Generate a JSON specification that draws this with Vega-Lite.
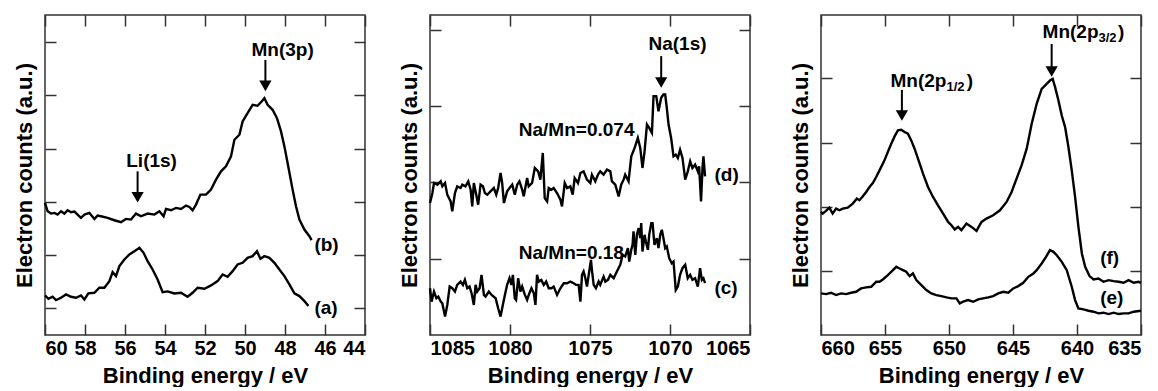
{
  "$schema": "https://vega.github.io/schema/vega-lite/v6.json",
  "padding": {"left": 12, "top": 13, "right": 0, "bottom": 0},
  "background": "white",
  "config": {
    "font": "Liberation Sans",
    "view": {"stroke": "#333", "strokeWidth": 1.5},
    "axis": {
      "domain": false, "grid": false,
      "tickColor": "#333", "tickWidth": 1.5, "tickSize": -11,
      "labelFont": "Liberation Sans", "labelFontWeight": "bold", "labelFontSize": 20, "labelColor": "black", "labelPadding": 14, "format": "d",
      "titleFont": "Liberation Sans", "titleFontWeight": "bold", "titleFontSize": 22, "titleColor": "black"
    },
    "text": {"font": "Liberation Sans", "fontWeight": "bold", "color": "black"}
  },
  "datasets": {
    "p1": [
      {"s":"b","E":60.00,"v":39.7},{"s":"b","E":59.87,"v":37.2},{"s":"b","E":59.70,"v":36.5},{"s":"b","E":59.53,"v":36.7},{"s":"b","E":59.37,"v":36.2},{"s":"b","E":59.20,"v":37.2},{"s":"b","E":59.03,"v":36.5},{"s":"b","E":58.87,"v":37.5},{"s":"b","E":58.70,"v":36.9},{"s":"b","E":58.53,"v":37.1},{"s":"b","E":58.37,"v":36.2},{"s":"b","E":58.20,"v":35.2},{"s":"b","E":58.03,"v":36.2},{"s":"b","E":57.78,"v":36.7},{"s":"b","E":57.53,"v":34.9},{"s":"b","E":57.37,"v":35.9},{"s":"b","E":57.20,"v":35.7},{"s":"b","E":56.87,"v":35.2},{"s":"b","E":56.53,"v":34.5},{"s":"b","E":56.20,"v":33.9},{"s":"b","E":55.95,"v":34.9},{"s":"b","E":55.70,"v":34.7},{"s":"b","E":55.45,"v":36.5},{"s":"b","E":55.20,"v":35.7},{"s":"b","E":54.87,"v":36.5},{"s":"b","E":54.53,"v":36.2},{"s":"b","E":54.28,"v":37.2},{"s":"b","E":54.07,"v":35.7},{"s":"b","E":53.95,"v":37.9},{"s":"b","E":53.70,"v":37.5},{"s":"b","E":53.45,"v":38.2},{"s":"b","E":53.20,"v":37.9},{"s":"b","E":52.95,"v":38.9},{"s":"b","E":52.78,"v":38.5},{"s":"b","E":52.62,"v":37.5},{"s":"b","E":52.45,"v":39.2},{"s":"b","E":52.23,"v":42.2},{"s":"b","E":51.95,"v":42.2},{"s":"b","E":51.70,"v":43.7},{"s":"b","E":51.45,"v":46.7},{"s":"b","E":51.20,"v":49.2},{"s":"b","E":50.95,"v":50.7},{"s":"b","E":50.70,"v":53.7},{"s":"b","E":50.53,"v":58.7},{"s":"b","E":50.28,"v":60.2},{"s":"b","E":50.12,"v":64.2},{"s":"b","E":49.87,"v":66.7},{"s":"b","E":49.62,"v":69.2},{"s":"b","E":49.37,"v":68.9},{"s":"b","E":49.17,"v":70.2},{"s":"b","E":49.03,"v":71.2},{"s":"b","E":48.87,"v":69.2},{"s":"b","E":48.62,"v":67.7},{"s":"b","E":48.40,"v":65.2},{"s":"b","E":48.20,"v":61.2},{"s":"b","E":48.03,"v":56.7},{"s":"b","E":47.87,"v":51.7},{"s":"b","E":47.62,"v":43.7},{"s":"b","E":47.45,"v":38.7},{"s":"b","E":47.28,"v":34.7},{"s":"b","E":47.03,"v":31.7},{"s":"b","E":46.78,"v":29.7},{"s":"b","E":46.67,"v":28.5},
      {"s":"a","E":60.00,"v":11.9},{"s":"a","E":59.83,"v":10.9},{"s":"a","E":59.62,"v":11.5},{"s":"a","E":59.45,"v":10.5},{"s":"a","E":59.20,"v":11.2},{"s":"a","E":58.95,"v":12.2},{"s":"a","E":58.70,"v":11.5},{"s":"a","E":58.45,"v":11.2},{"s":"a","E":58.20,"v":11.9},{"s":"a","E":58.03,"v":10.7},{"s":"a","E":57.83,"v":12.5},{"s":"a","E":57.53,"v":12.7},{"s":"a","E":57.28,"v":14.2},{"s":"a","E":57.03,"v":14.2},{"s":"a","E":56.78,"v":16.2},{"s":"a","E":56.62,"v":18.9},{"s":"a","E":56.45,"v":17.7},{"s":"a","E":56.28,"v":20.7},{"s":"a","E":56.03,"v":22.7},{"s":"a","E":55.78,"v":24.2},{"s":"a","E":55.53,"v":25.2},{"s":"a","E":55.28,"v":26.2},{"s":"a","E":55.07,"v":24.7},{"s":"a","E":54.87,"v":22.2},{"s":"a","E":54.62,"v":19.7},{"s":"a","E":54.37,"v":16.7},{"s":"a","E":54.12,"v":12.9},{"s":"a","E":53.87,"v":13.1},{"s":"a","E":53.53,"v":12.5},{"s":"a","E":53.20,"v":12.7},{"s":"a","E":52.87,"v":11.5},{"s":"a","E":52.62,"v":12.7},{"s":"a","E":52.37,"v":14.2},{"s":"a","E":52.03,"v":13.9},{"s":"a","E":51.70,"v":14.9},{"s":"a","E":51.37,"v":16.2},{"s":"a","E":51.12,"v":18.2},{"s":"a","E":50.87,"v":17.5},{"s":"a","E":50.62,"v":19.2},{"s":"a","E":50.37,"v":21.2},{"s":"a","E":50.12,"v":21.7},{"s":"a","E":49.87,"v":23.2},{"s":"a","E":49.62,"v":23.7},{"s":"a","E":49.40,"v":25.2},{"s":"a","E":49.23,"v":22.9},{"s":"a","E":49.03,"v":23.7},{"s":"a","E":48.78,"v":23.2},{"s":"a","E":48.53,"v":21.7},{"s":"a","E":48.28,"v":19.7},{"s":"a","E":48.03,"v":17.7},{"s":"a","E":47.78,"v":15.2},{"s":"a","E":47.53,"v":12.5},{"s":"a","E":47.28,"v":11.7},{"s":"a","E":47.03,"v":10.2},{"s":"a","E":46.83,"v":8.7}
    ],
    "p2": [
      {"s":"d","E":1085.00,"v":39.5},{"s":"d","E":1084.85,"v":42.5},{"s":"d","E":1084.75,"v":45.5},{"s":"d","E":1084.54,"v":45.0},{"s":"d","E":1084.33,"v":46.0},{"s":"d","E":1084.23,"v":44.5},{"s":"d","E":1084.06,"v":45.5},{"s":"d","E":1083.92,"v":42.0},{"s":"d","E":1083.71,"v":40.0},{"s":"d","E":1083.61,"v":37.0},{"s":"d","E":1083.44,"v":42.5},{"s":"d","E":1083.30,"v":44.5},{"s":"d","E":1083.09,"v":44.0},{"s":"d","E":1082.98,"v":45.0},{"s":"d","E":1082.78,"v":44.5},{"s":"d","E":1082.61,"v":46.0},{"s":"d","E":1082.46,"v":43.5},{"s":"d","E":1082.36,"v":38.5},{"s":"d","E":1082.26,"v":45.5},{"s":"d","E":1082.11,"v":42.0},{"s":"d","E":1081.99,"v":39.0},{"s":"d","E":1081.84,"v":45.0},{"s":"d","E":1081.69,"v":44.5},{"s":"d","E":1081.57,"v":42.5},{"s":"d","E":1081.42,"v":42.0},{"s":"d","E":1081.22,"v":43.0},{"s":"d","E":1081.01,"v":44.0},{"s":"d","E":1080.86,"v":42.0},{"s":"d","E":1080.74,"v":44.0},{"s":"d","E":1080.59,"v":48.5},{"s":"d","E":1080.49,"v":45.5},{"s":"d","E":1080.38,"v":39.5},{"s":"d","E":1080.18,"v":43.0},{"s":"d","E":1080.03,"v":44.0},{"s":"d","E":1079.86,"v":45.0},{"s":"d","E":1079.70,"v":42.0},{"s":"d","E":1079.55,"v":45.0},{"s":"d","E":1079.41,"v":46.0},{"s":"d","E":1079.24,"v":43.5},{"s":"d","E":1079.14,"v":41.5},{"s":"d","E":1078.93,"v":47.0},{"s":"d","E":1078.83,"v":44.5},{"s":"d","E":1078.62,"v":45.5},{"s":"d","E":1078.45,"v":50.0},{"s":"d","E":1078.24,"v":49.0},{"s":"d","E":1078.10,"v":46.5},{"s":"d","E":1077.95,"v":54.5},{"s":"d","E":1077.83,"v":41.0},{"s":"d","E":1077.68,"v":40.0},{"s":"d","E":1077.58,"v":44.0},{"s":"d","E":1077.41,"v":43.5},{"s":"d","E":1077.27,"v":44.0},{"s":"d","E":1077.06,"v":42.5},{"s":"d","E":1076.85,"v":40.5},{"s":"d","E":1076.75,"v":38.5},{"s":"d","E":1076.58,"v":45.5},{"s":"d","E":1076.43,"v":44.0},{"s":"d","E":1076.23,"v":44.5},{"s":"d","E":1076.08,"v":42.0},{"s":"d","E":1075.96,"v":47.0},{"s":"d","E":1075.75,"v":45.5},{"s":"d","E":1075.60,"v":48.5},{"s":"d","E":1075.40,"v":49.0},{"s":"d","E":1075.19,"v":46.5},{"s":"d","E":1074.98,"v":45.5},{"s":"d","E":1074.88,"v":48.0},{"s":"d","E":1074.67,"v":46.0},{"s":"d","E":1074.50,"v":48.0},{"s":"d","E":1074.36,"v":49.0},{"s":"d","E":1074.15,"v":48.0},{"s":"d","E":1073.94,"v":49.5},{"s":"d","E":1073.73,"v":49.0},{"s":"d","E":1073.63,"v":46.0},{"s":"d","E":1073.42,"v":45.0},{"s":"d","E":1073.21,"v":41.5},{"s":"d","E":1073.05,"v":45.0},{"s":"d","E":1072.90,"v":46.5},{"s":"d","E":1072.80,"v":48.0},{"s":"d","E":1072.59,"v":46.0},{"s":"d","E":1072.42,"v":53.5},{"s":"d","E":1072.21,"v":56.0},{"s":"d","E":1072.01,"v":59.0},{"s":"d","E":1071.86,"v":56.0},{"s":"d","E":1071.72,"v":50.0},{"s":"d","E":1071.59,"v":55.0},{"s":"d","E":1071.44,"v":63.0},{"s":"d","E":1071.30,"v":62.0},{"s":"d","E":1071.13,"v":60.5},{"s":"d","E":1071.03,"v":71.5},{"s":"d","E":1070.86,"v":71.5},{"s":"d","E":1070.72,"v":67.0},{"s":"d","E":1070.55,"v":71.0},{"s":"d","E":1070.41,"v":72.0},{"s":"d","E":1070.30,"v":72.0},{"s":"d","E":1070.20,"v":68.0},{"s":"d","E":1070.09,"v":63.0},{"s":"d","E":1069.93,"v":59.0},{"s":"d","E":1069.78,"v":53.5},{"s":"d","E":1069.64,"v":54.0},{"s":"d","E":1069.51,"v":53.0},{"s":"d","E":1069.37,"v":55.5},{"s":"d","E":1069.22,"v":53.0},{"s":"d","E":1069.05,"v":46.5},{"s":"d","E":1068.89,"v":49.0},{"s":"d","E":1068.74,"v":52.0},{"s":"d","E":1068.60,"v":50.0},{"s":"d","E":1068.43,"v":51.0},{"s":"d","E":1068.26,"v":49.0},{"s":"d","E":1068.18,"v":50.5},{"s":"d","E":1068.06,"v":40.0},{"s":"d","E":1067.97,"v":50.0},{"s":"d","E":1067.91,"v":53.5},{"s":"d","E":1067.81,"v":47.5},
      {"s":"c","E":1085.00,"v":14.0},{"s":"c","E":1084.90,"v":10.0},{"s":"c","E":1084.75,"v":13.0},{"s":"c","E":1084.60,"v":11.0},{"s":"c","E":1084.48,"v":11.5},{"s":"c","E":1084.33,"v":10.0},{"s":"c","E":1084.23,"v":9.5},{"s":"c","E":1084.06,"v":5.5},{"s":"c","E":1083.92,"v":9.0},{"s":"c","E":1083.77,"v":14.5},{"s":"c","E":1083.61,"v":14.0},{"s":"c","E":1083.44,"v":13.0},{"s":"c","E":1083.30,"v":15.0},{"s":"c","E":1083.09,"v":16.0},{"s":"c","E":1082.94,"v":15.0},{"s":"c","E":1082.82,"v":16.5},{"s":"c","E":1082.67,"v":14.0},{"s":"c","E":1082.53,"v":14.5},{"s":"c","E":1082.40,"v":12.5},{"s":"c","E":1082.26,"v":9.0},{"s":"c","E":1082.15,"v":15.0},{"s":"c","E":1082.05,"v":13.0},{"s":"c","E":1081.90,"v":14.0},{"s":"c","E":1081.78,"v":18.0},{"s":"c","E":1081.63,"v":12.0},{"s":"c","E":1081.53,"v":11.5},{"s":"c","E":1081.32,"v":13.0},{"s":"c","E":1081.15,"v":12.0},{"s":"c","E":1080.90,"v":11.0},{"s":"c","E":1080.74,"v":8.0},{"s":"c","E":1080.59,"v":5.5},{"s":"c","E":1080.49,"v":8.0},{"s":"c","E":1080.32,"v":12.0},{"s":"c","E":1080.18,"v":15.0},{"s":"c","E":1080.03,"v":17.0},{"s":"c","E":1079.91,"v":15.0},{"s":"c","E":1079.82,"v":18.0},{"s":"c","E":1079.70,"v":11.0},{"s":"c","E":1079.62,"v":10.5},{"s":"c","E":1079.49,"v":17.0},{"s":"c","E":1079.35,"v":13.0},{"s":"c","E":1079.24,"v":14.5},{"s":"c","E":1079.07,"v":12.0},{"s":"c","E":1078.93,"v":10.5},{"s":"c","E":1078.83,"v":12.0},{"s":"c","E":1078.66,"v":14.0},{"s":"c","E":1078.51,"v":12.5},{"s":"c","E":1078.41,"v":9.0},{"s":"c","E":1078.31,"v":18.0},{"s":"c","E":1078.20,"v":16.0},{"s":"c","E":1078.04,"v":16.5},{"s":"c","E":1077.89,"v":15.0},{"s":"c","E":1077.74,"v":16.0},{"s":"c","E":1077.58,"v":14.0},{"s":"c","E":1077.41,"v":14.0},{"s":"c","E":1077.27,"v":14.5},{"s":"c","E":1077.06,"v":12.0},{"s":"c","E":1076.85,"v":14.0},{"s":"c","E":1076.64,"v":15.5},{"s":"c","E":1076.43,"v":15.5},{"s":"c","E":1076.23,"v":16.0},{"s":"c","E":1076.02,"v":15.5},{"s":"c","E":1075.87,"v":15.0},{"s":"c","E":1075.71,"v":15.0},{"s":"c","E":1075.60,"v":10.0},{"s":"c","E":1075.50,"v":18.0},{"s":"c","E":1075.40,"v":19.0},{"s":"c","E":1075.29,"v":17.0},{"s":"c","E":1075.19,"v":14.5},{"s":"c","E":1075.08,"v":18.0},{"s":"c","E":1074.94,"v":22.5},{"s":"c","E":1074.88,"v":19.5},{"s":"c","E":1074.77,"v":15.0},{"s":"c","E":1074.63,"v":14.0},{"s":"c","E":1074.46,"v":16.0},{"s":"c","E":1074.36,"v":15.0},{"s":"c","E":1074.15,"v":17.5},{"s":"c","E":1074.04,"v":16.0},{"s":"c","E":1073.88,"v":16.5},{"s":"c","E":1073.73,"v":18.0},{"s":"c","E":1073.52,"v":17.0},{"s":"c","E":1073.32,"v":19.0},{"s":"c","E":1073.11,"v":21.0},{"s":"c","E":1072.96,"v":24.0},{"s":"c","E":1072.80,"v":23.5},{"s":"c","E":1072.63,"v":26.0},{"s":"c","E":1072.55,"v":22.0},{"s":"c","E":1072.42,"v":25.5},{"s":"c","E":1072.34,"v":27.0},{"s":"c","E":1072.28,"v":31.0},{"s":"c","E":1072.17,"v":24.0},{"s":"c","E":1072.07,"v":30.0},{"s":"c","E":1071.96,"v":32.0},{"s":"c","E":1071.86,"v":29.0},{"s":"c","E":1071.80,"v":33.5},{"s":"c","E":1071.72,"v":25.0},{"s":"c","E":1071.59,"v":30.0},{"s":"c","E":1071.51,"v":28.0},{"s":"c","E":1071.38,"v":25.5},{"s":"c","E":1071.30,"v":30.0},{"s":"c","E":1071.17,"v":33.5},{"s":"c","E":1071.09,"v":33.5},{"s":"c","E":1070.97,"v":27.0},{"s":"c","E":1070.82,"v":29.0},{"s":"c","E":1070.72,"v":26.0},{"s":"c","E":1070.61,"v":30.0},{"s":"c","E":1070.51,"v":31.5},{"s":"c","E":1070.41,"v":29.0},{"s":"c","E":1070.30,"v":26.0},{"s":"c","E":1070.20,"v":26.5},{"s":"c","E":1070.05,"v":23.0},{"s":"c","E":1069.89,"v":21.5},{"s":"c","E":1069.78,"v":22.0},{"s":"c","E":1069.64,"v":13.5},{"s":"c","E":1069.51,"v":14.5},{"s":"c","E":1069.37,"v":18.0},{"s":"c","E":1069.22,"v":20.0},{"s":"c","E":1069.05,"v":21.0},{"s":"c","E":1068.89,"v":17.0},{"s":"c","E":1068.74,"v":18.0},{"s":"c","E":1068.60,"v":16.5},{"s":"c","E":1068.43,"v":17.0},{"s":"c","E":1068.26,"v":14.5},{"s":"c","E":1068.12,"v":20.0},{"s":"c","E":1068.01,"v":16.5},{"s":"c","E":1067.91,"v":17.0},{"s":"c","E":1067.81,"v":15.5}
    ],
    "p3": [
      {"s":"f","E":660.00,"v":37.0},{"s":"f","E":659.87,"v":36.5},{"s":"f","E":659.61,"v":37.3},{"s":"f","E":659.35,"v":38.3},{"s":"f","E":659.09,"v":36.5},{"s":"f","E":658.82,"v":38.0},{"s":"f","E":658.56,"v":37.5},{"s":"f","E":658.30,"v":38.0},{"s":"f","E":657.91,"v":38.3},{"s":"f","E":657.52,"v":39.5},{"s":"f","E":657.20,"v":41.0},{"s":"f","E":657.00,"v":40.5},{"s":"f","E":656.73,"v":41.7},{"s":"f","E":656.47,"v":43.0},{"s":"f","E":656.21,"v":44.5},{"s":"f","E":655.95,"v":45.7},{"s":"f","E":655.69,"v":47.5},{"s":"f","E":655.43,"v":49.5},{"s":"f","E":655.04,"v":52.5},{"s":"f","E":654.78,"v":55.0},{"s":"f","E":654.51,"v":57.5},{"s":"f","E":654.25,"v":59.7},{"s":"f","E":653.99,"v":61.5},{"s":"f","E":653.73,"v":61.7},{"s":"f","E":653.47,"v":61.0},{"s":"f","E":653.21,"v":60.5},{"s":"f","E":652.95,"v":58.5},{"s":"f","E":652.69,"v":56.0},{"s":"f","E":652.29,"v":51.5},{"s":"f","E":652.03,"v":48.5},{"s":"f","E":651.64,"v":44.5},{"s":"f","E":651.25,"v":41.5},{"s":"f","E":650.86,"v":39.0},{"s":"f","E":650.46,"v":36.5},{"s":"f","E":650.07,"v":34.0},{"s":"f","E":649.81,"v":33.0},{"s":"f","E":649.55,"v":31.7},{"s":"f","E":649.29,"v":32.5},{"s":"f","E":649.03,"v":31.5},{"s":"f","E":648.64,"v":33.5},{"s":"f","E":648.24,"v":32.5},{"s":"f","E":647.85,"v":31.3},{"s":"f","E":647.46,"v":34.0},{"s":"f","E":647.07,"v":35.0},{"s":"f","E":646.55,"v":36.0},{"s":"f","E":646.02,"v":37.5},{"s":"f","E":645.50,"v":40.0},{"s":"f","E":645.11,"v":43.0},{"s":"f","E":644.72,"v":47.0},{"s":"f","E":644.33,"v":51.0},{"s":"f","E":643.93,"v":56.0},{"s":"f","E":643.54,"v":63.5},{"s":"f","E":643.15,"v":69.5},{"s":"f","E":642.76,"v":74.0},{"s":"f","E":642.37,"v":75.5},{"s":"f","E":642.11,"v":76.5},{"s":"f","E":641.90,"v":77.0},{"s":"f","E":641.71,"v":74.5},{"s":"f","E":641.45,"v":70.5},{"s":"f","E":641.19,"v":66.0},{"s":"f","E":640.93,"v":62.5},{"s":"f","E":640.67,"v":56.5},{"s":"f","E":640.41,"v":49.5},{"s":"f","E":640.15,"v":41.5},{"s":"f","E":639.89,"v":32.5},{"s":"f","E":639.62,"v":24.5},{"s":"f","E":639.36,"v":20.5},{"s":"f","E":639.02,"v":17.7},{"s":"f","E":638.71,"v":16.7},{"s":"f","E":638.32,"v":17.0},{"s":"f","E":637.93,"v":16.0},{"s":"f","E":637.53,"v":16.5},{"s":"f","E":637.14,"v":16.2},{"s":"f","E":636.75,"v":16.0},{"s":"f","E":636.36,"v":15.7},{"s":"f","E":635.97,"v":16.5},{"s":"f","E":635.57,"v":15.7},{"s":"f","E":635.18,"v":16.0},{"s":"f","E":635.00,"v":15.7},
      {"s":"e","E":660.00,"v":12.5},{"s":"e","E":659.61,"v":12.3},{"s":"e","E":659.22,"v":12.7},{"s":"e","E":658.82,"v":12.0},{"s":"e","E":658.43,"v":12.5},{"s":"e","E":658.04,"v":12.3},{"s":"e","E":657.65,"v":12.7},{"s":"e","E":657.26,"v":13.0},{"s":"e","E":656.87,"v":14.0},{"s":"e","E":656.47,"v":14.3},{"s":"e","E":656.08,"v":14.5},{"s":"e","E":655.69,"v":16.0},{"s":"e","E":655.43,"v":16.0},{"s":"e","E":655.17,"v":16.7},{"s":"e","E":654.78,"v":18.0},{"s":"e","E":654.38,"v":19.5},{"s":"e","E":654.12,"v":20.5},{"s":"e","E":653.86,"v":20.0},{"s":"e","E":653.60,"v":19.5},{"s":"e","E":653.34,"v":19.0},{"s":"e","E":653.08,"v":17.7},{"s":"e","E":652.82,"v":18.5},{"s":"e","E":652.55,"v":16.5},{"s":"e","E":652.16,"v":15.0},{"s":"e","E":651.77,"v":13.5},{"s":"e","E":651.38,"v":12.5},{"s":"e","E":650.99,"v":12.0},{"s":"e","E":650.60,"v":11.7},{"s":"e","E":650.20,"v":11.3},{"s":"e","E":649.81,"v":11.0},{"s":"e","E":649.42,"v":11.0},{"s":"e","E":649.16,"v":9.5},{"s":"e","E":648.90,"v":10.0},{"s":"e","E":648.51,"v":10.5},{"s":"e","E":648.11,"v":10.0},{"s":"e","E":647.72,"v":10.7},{"s":"e","E":647.33,"v":11.0},{"s":"e","E":646.94,"v":11.3},{"s":"e","E":646.55,"v":11.7},{"s":"e","E":646.15,"v":12.5},{"s":"e","E":645.76,"v":13.0},{"s":"e","E":645.37,"v":12.7},{"s":"e","E":644.98,"v":14.0},{"s":"e","E":644.59,"v":14.7},{"s":"e","E":644.20,"v":15.7},{"s":"e","E":643.80,"v":17.5},{"s":"e","E":643.41,"v":18.5},{"s":"e","E":643.15,"v":19.5},{"s":"e","E":642.76,"v":21.5},{"s":"e","E":642.42,"v":23.5},{"s":"e","E":642.11,"v":25.5},{"s":"e","E":641.84,"v":25.0},{"s":"e","E":641.58,"v":24.0},{"s":"e","E":641.19,"v":22.0},{"s":"e","E":640.80,"v":19.5},{"s":"e","E":640.41,"v":14.5},{"s":"e","E":640.15,"v":10.5},{"s":"e","E":639.89,"v":8.0},{"s":"e","E":639.49,"v":7.7},{"s":"e","E":639.10,"v":7.3},{"s":"e","E":638.71,"v":7.0},{"s":"e","E":638.32,"v":6.5},{"s":"e","E":637.93,"v":6.7},{"s":"e","E":637.53,"v":6.3},{"s":"e","E":637.14,"v":6.7},{"s":"e","E":636.75,"v":6.3},{"s":"e","E":636.36,"v":6.5},{"s":"e","E":635.97,"v":6.5},{"s":"e","E":635.57,"v":7.0},{"s":"e","E":635.00,"v":7.3}
    ],
    "a1": [{"E":48.98,"y1":82.7,"y2":75.5,"yt":74.9},{"E":55.37,"y1":49.2,"y2":42.0,"yt":41.4}],
    "a2": [{"E":1070.55,"y1":83.5,"y2":76.2,"yt":75.6}],
    "a3": [{"E":653.68,"y1":73.7,"y2":66.6,"yt":66.0},{"E":641.98,"y1":87.5,"y2":79.8,"yt":79.2}],
    "l1": [
      {"k":"peak","t":"Mn(3p)","E":48.12,"v":85.7},
      {"k":"peak","t":"Li(1s)","E":54.67,"v":52.2},
      {"k":"curve","t":"(b)","E":46.53,"v":27.2},
      {"k":"curve","t":"(a)","E":46.53,"v":8.2}
    ],
    "l2": [
      {"k":"peak","t":"Na(1s)","E":1069.53,"v":87.0},
      {"k":"curve","t":"Na/Mn=0.074","E":1079.45,"v":61.5},
      {"k":"curve","t":"Na/Mn=0.18","E":1079.45,"v":24.5},
      {"k":"curve","t":"(d)","E":1067.22,"v":48.0},
      {"k":"curve","t":"(c)","E":1067.22,"v":14.2}
    ],
    "l3": [
      {"k":"main","t":"Mn(2p","E":650.20,"v":76.5},
      {"k":"sub","t":"1/2","E":650.20,"v":76.5},
      {"k":"curve","t":")","E":648.62,"v":76.5},
      {"k":"main","t":"Mn(2p","E":638.32,"v":91.0},
      {"k":"sub","t":"3/2","E":638.32,"v":91.0},
      {"k":"curve","t":")","E":636.80,"v":91.0},
      {"k":"curve","t":"(f)","E":638.19,"v":23.0},
      {"k":"curve","t":"(e)","E":638.19,"v":11.0}
    ]
  },
  "spacing": 36,
  "hconcat": [
    {
      "spacing": 30,
      "hconcat": [
        {
          "width": 320, "height": 320,
          "resolve": {"axis": {"x": "independent", "y": "independent"}},
          "layer": [
            {
              "data": {"name": "p1"},
              "mark": {"type": "line", "color": "black", "strokeWidth": 2.4},
              "encoding": {
                "x": {"field": "E", "type": "quantitative", "scale": {"domain": [44, 60], "reverse": true, "nice": false, "zero": false},
                      "axis": {"orient": "bottom", "values": [44,46,48,50,52,54,56,58,60], "title": "Binding energy / eV", "titlePadding": 7}},
                "y": {"field": "v", "type": "quantitative", "scale": {"domain": [0, 96.2], "nice": false, "zero": false},
                      "axis": {"orient": "left", "labels": false, "values": [8,24,40,56,72,88], "title": "Electron counts (a.u.)", "titlePadding": 8}},
                "detail": {"field": "s"}
              }
            },
            {
              "data": {"name": "a1"},
              "mark": {"type": "rule", "color": "black", "strokeWidth": 2},
              "encoding": {
                "x": {"field": "E", "type": "quantitative", "axis": {"orient": "top", "labels": false, "title": null, "values": [44,46,48,50,52,54,56,58,60]}},
                "y": {"field": "y1", "type": "quantitative", "axis": {"orient": "right", "labels": false, "title": null, "values": [8,24,40,56,72,88]}},
                "y2": {"field": "y2"}
              }
            },
            {
              "data": {"name": "a1"},
              "mark": {"type": "point", "shape": "triangle-down", "filled": true, "color": "black", "opacity": 1, "size": 150},
              "encoding": {
                "x": {"field": "E", "type": "quantitative", "axis": null},
                "y": {"field": "yt", "type": "quantitative", "axis": null}
              }
            },
            {
              "data": {"name": "l1"},
              "transform": [{"filter": "datum.k == 'peak'"}],
              "mark": {"type": "text", "align": "center", "baseline": "middle", "fontSize": 19},
              "encoding": {
                "x": {"field": "E", "type": "quantitative", "axis": null},
                "y": {"field": "v", "type": "quantitative", "axis": null},
                "text": {"field": "t"}
              }
            },
            {
              "data": {"name": "l1"},
              "transform": [{"filter": "datum.k == 'curve'"}],
              "mark": {"type": "text", "align": "left", "baseline": "middle", "fontSize": 19},
              "encoding": {
                "x": {"field": "E", "type": "quantitative", "axis": null},
                "y": {"field": "v", "type": "quantitative", "axis": null},
                "text": {"field": "t"}
              }
            }
          ]
        },
        {
          "width": 320, "height": 320,
          "resolve": {"axis": {"x": "independent", "y": "independent"}},
          "layer": [
            {
              "data": {"name": "p2"},
              "mark": {"type": "line", "color": "black", "strokeWidth": 2.4},
              "encoding": {
                "x": {"field": "E", "type": "quantitative", "scale": {"domain": [1065, 1085], "reverse": true, "nice": false, "zero": false},
                      "axis": {"orient": "bottom", "values": [1065,1070,1075,1080,1085], "title": "Binding energy / eV", "titlePadding": 7}},
                "y": {"field": "v", "type": "quantitative", "scale": {"domain": [0, 95.8], "nice": false, "zero": false},
                      "axis": {"orient": "left", "labels": false, "values": [22.7,45.7,68.7,91.3], "title": "Electron counts (a.u.)", "titlePadding": 8}},
                "detail": {"field": "s"}
              }
            },
            {
              "data": {"name": "a2"},
              "mark": {"type": "rule", "color": "black", "strokeWidth": 2},
              "encoding": {
                "x": {"field": "E", "type": "quantitative", "axis": {"orient": "top", "labels": false, "title": null, "values": [1065,1070,1075,1080,1085]}},
                "y": {"field": "y1", "type": "quantitative", "axis": {"orient": "right", "labels": false, "title": null, "values": [22.7,45.7,68.7,91.3]}},
                "y2": {"field": "y2"}
              }
            },
            {
              "data": {"name": "a2"},
              "mark": {"type": "point", "shape": "triangle-down", "filled": true, "color": "black", "opacity": 1, "size": 150},
              "encoding": {
                "x": {"field": "E", "type": "quantitative", "axis": null},
                "y": {"field": "yt", "type": "quantitative", "axis": null}
              }
            },
            {
              "data": {"name": "l2"},
              "transform": [{"filter": "datum.k == 'peak'"}],
              "mark": {"type": "text", "align": "center", "baseline": "middle", "fontSize": 19},
              "encoding": {
                "x": {"field": "E", "type": "quantitative", "axis": null},
                "y": {"field": "v", "type": "quantitative", "axis": null},
                "text": {"field": "t"}
              }
            },
            {
              "data": {"name": "l2"},
              "transform": [{"filter": "datum.k == 'curve'"}],
              "mark": {"type": "text", "align": "left", "baseline": "middle", "fontSize": 19},
              "encoding": {
                "x": {"field": "E", "type": "quantitative", "axis": null},
                "y": {"field": "v", "type": "quantitative", "axis": null},
                "text": {"field": "t"}
              }
            }
          ]
        }
      ]
    },
    {
      "width": 320, "height": 320,
      "resolve": {"axis": {"x": "independent", "y": "independent"}},
      "layer": [
        {
          "data": {"name": "p3"},
          "mark": {"type": "line", "color": "black", "strokeWidth": 2.4},
          "encoding": {
            "x": {"field": "E", "type": "quantitative", "scale": {"domain": [635, 660], "reverse": true, "nice": false, "zero": false},
                  "axis": {"orient": "bottom", "values": [635,640,645,650,655,660], "title": "Binding energy / eV", "titlePadding": 7}},
            "y": {"field": "v", "type": "quantitative", "scale": {"domain": [0, 96.2], "nice": false, "zero": false},
                  "axis": {"orient": "left", "labels": false, "values": [19.3,38.5,57.8,77.2], "title": "Electron counts (a.u.)", "titlePadding": 8}},
            "detail": {"field": "s"}
          }
        },
        {
          "data": {"name": "a3"},
          "mark": {"type": "rule", "color": "black", "strokeWidth": 2},
          "encoding": {
            "x": {"field": "E", "type": "quantitative", "axis": {"orient": "top", "labels": false, "title": null, "values": [635,640,645,650,655,660]}},
            "y": {"field": "y1", "type": "quantitative", "axis": {"orient": "right", "labels": false, "title": null, "values": [19.3,38.5,57.8,77.2]}},
            "y2": {"field": "y2"}
          }
        },
        {
          "data": {"name": "a3"},
          "mark": {"type": "point", "shape": "triangle-down", "filled": true, "color": "black", "opacity": 1, "size": 150},
          "encoding": {
            "x": {"field": "E", "type": "quantitative", "axis": null},
            "y": {"field": "yt", "type": "quantitative", "axis": null}
          }
        },
        {
          "data": {"name": "l3"},
          "transform": [{"filter": "datum.k == 'main'"}],
          "mark": {"type": "text", "align": "right", "baseline": "middle", "fontSize": 19},
          "encoding": {
            "x": {"field": "E", "type": "quantitative", "axis": null},
            "y": {"field": "v", "type": "quantitative", "axis": null},
            "text": {"field": "t"}
          }
        },
        {
          "data": {"name": "l3"},
          "transform": [{"filter": "datum.k == 'sub'"}],
          "mark": {"type": "text", "align": "left", "baseline": "middle", "fontSize": 13, "dy": 6},
          "encoding": {
            "x": {"field": "E", "type": "quantitative", "axis": null},
            "y": {"field": "v", "type": "quantitative", "axis": null},
            "text": {"field": "t"}
          }
        },
        {
          "data": {"name": "l3"},
          "transform": [{"filter": "datum.k == 'curve'"}],
          "mark": {"type": "text", "align": "left", "baseline": "middle", "fontSize": 19},
          "encoding": {
            "x": {"field": "E", "type": "quantitative", "axis": null},
            "y": {"field": "v", "type": "quantitative", "axis": null},
            "text": {"field": "t"}
          }
        }
      ]
    }
  ]
}
